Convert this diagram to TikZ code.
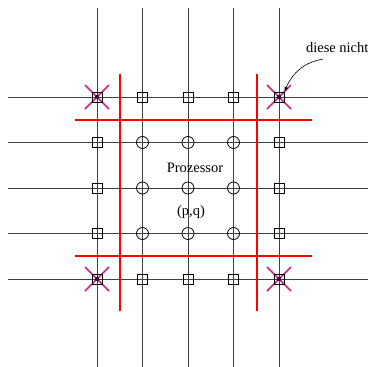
\documentclass[tikz,border=0pt]{standalone}
\usepackage{fontspec}
\setmainfont{Liberation Serif}
\begin{document}
\begin{tikzpicture}[x=1pt,y=-1pt,
    gitter/.style={black!75,line width=0.8pt},
    rand/.style={red,line width=1.6pt},
    quad/.style={draw,line width=0.8pt,minimum size=10pt,inner sep=0pt},
    kreis/.style={draw,circle,line width=0.8pt,minimum size=12pt,inner sep=0pt},
    kreuz/.style={magenta!85!black,line width=1.6pt}]
    \useasboundingbox (0,0) rectangle (368,367);
    \fontsize{14.5}{17}\selectfont
    %% grid
    \foreach \i in {0,...,4} {
        \draw[gitter] (97+45.5*\i,8) -- (97+45.5*\i,367);
        \draw[gitter] (8,97+45.5*\i) -- (368,97+45.5*\i);
    }
    %% boundary of the local block
    \draw[rand] (120,74) -- (120,311);
    \draw[rand] (257,74) -- (257,311);
    \draw[rand] (75,120) -- (312,120);
    \draw[rand] (75,256) -- (312,256);
    %% excluded corners
    \foreach \x/\y in {0/0,4/0,0/4,4/4} {
        \draw[kreuz] (97+45.5*\x-12,97+45.5*\y-12) -- ++(24,24);
        \draw[kreuz] (97+45.5*\x-12,97+45.5*\y+12) -- ++(24,-24);
        \fill[violet!50!black] (97+45.5*\x,97+45.5*\y) circle (2.2pt);
    }
    %% ghost cells and own cells
    \foreach \i in {0,...,4}
        \foreach \j in {0,...,4} {
            \ifnum\i=0 \def\form{quad}\else\ifnum\i=4 \def\form{quad}\else
            \ifnum\j=0 \def\form{quad}\else\ifnum\j=4 \def\form{quad}\else
            \def\form{kreis}\fi\fi\fi\fi
            \node[\form] (z-\i-\j) at (97+45.5*\i,97+45.5*\j) {};
        }
    %% labels
    \node (proz) at (195,168) {Prozessor};
    \node (pq) at (191,212) {(p,q)};
    \node[anchor=west] (nicht) at (301,48) {diese nicht};
    \draw[-latex,line width=0.6pt] (nicht.south west) ++(22,1)
        .. controls (305,62) and (293,72) .. (z-4-0.north east);
\end{tikzpicture}
\end{document}
